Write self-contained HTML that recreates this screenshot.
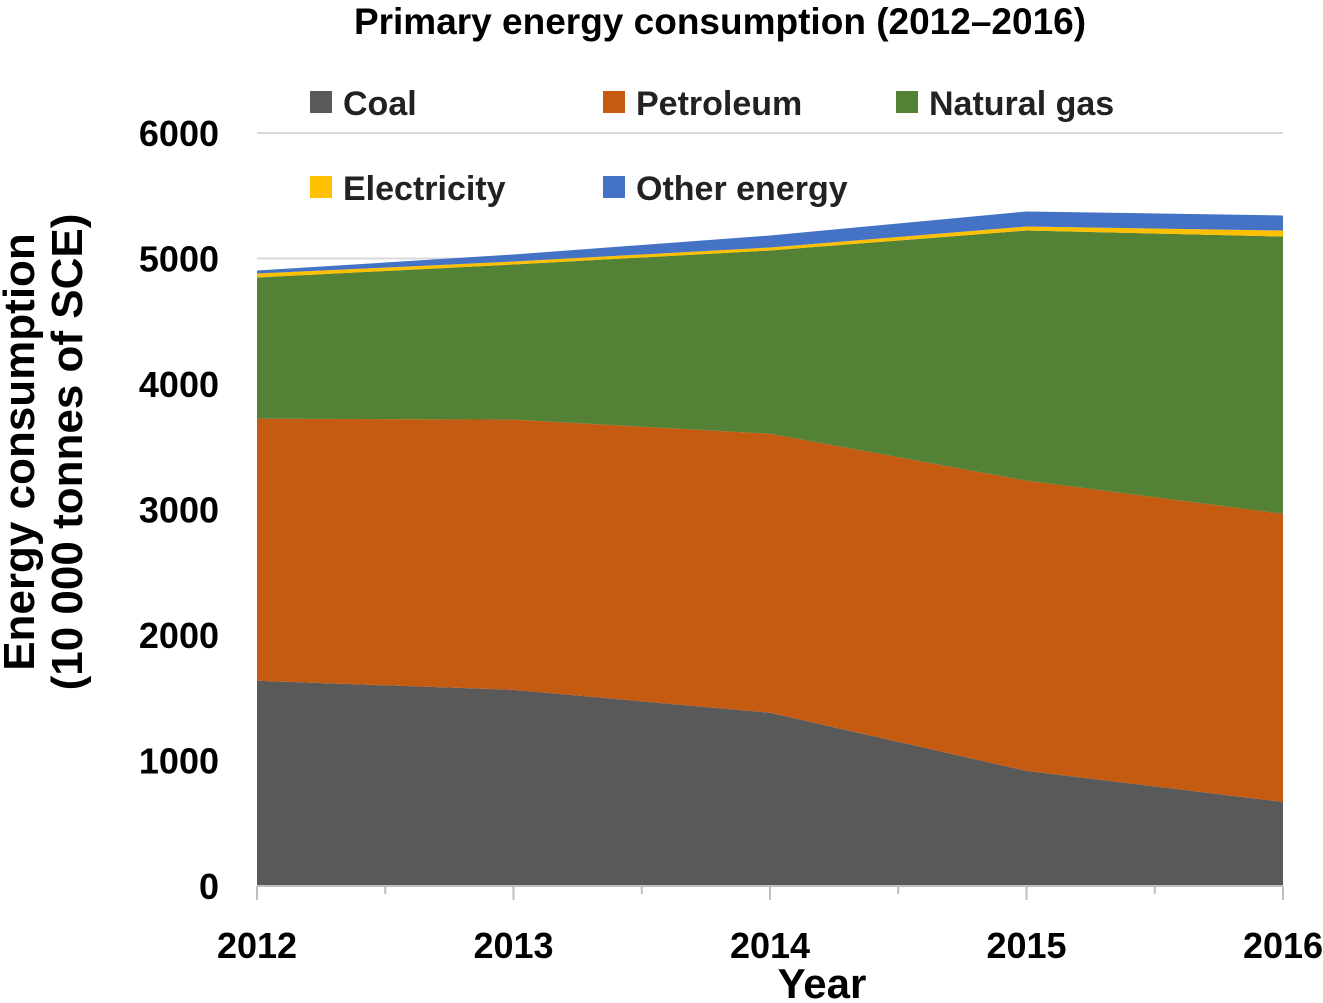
<!DOCTYPE html>
<html><head><meta charset="utf-8"><style>
body{margin:0;background:#fff;width:1323px;height:1003px;overflow:hidden}
svg{display:block;font-family:"Liberation Sans",Arial,sans-serif}
</style></head><body>
<svg id="c" width="1323" height="1003">
<text x="720" y="34" text-anchor="middle" font-size="37" font-weight="bold">Primary energy consumption (2012–2016)</text>
<g transform="translate(0,452) rotate(-90)">
<text x="0" y="34" text-anchor="middle" font-size="44" font-weight="bold">Energy consumption</text>
<text x="0" y="82" text-anchor="middle" font-size="44" font-weight="bold">(10 000 tonnes of SCE)</text>
</g>
<text x="822" y="998" text-anchor="middle" font-size="42" font-weight="bold">Year</text>
<g id="grid"></g><g id="areas"></g><g id="axes"></g><g id="legend"></g>
</svg>
<script>
const years=[2012,2013,2014,2015,2016];
const coal=[1635,1563,1380,917,670];
const petroleum=[2089,2153,2224,2313,2296];
const naturalGas=[1125,1236,1460,1993,2209];
const electricity=[31,24,24,32,48];
const otherEnergy=[24,56,95,120,120];
const yTicks=[0,1000,2000,3000,4000,5000,6000];
const names=["Coal","Petroleum","Natural gas","Electricity","Other energy"];
const colors=["#595959","#C55A11","#538135","#FFC000","#4472C4"];
const series=[coal,petroleum,naturalGas,electricity,otherEnergy];
const NS="http://www.w3.org/2000/svg";
const x0=257,x1=1283,y0=886,y1=133;
const X=i=>x0+(x1-x0)*i/(years.length-1);
const Y=v=>y0-(y0-y1)*v/6000;
function mk(t,a,p){const e=document.createElementNS(NS,t);for(const k in a)e.setAttribute(k,a[k]);p.appendChild(e);return e;}
const grid=document.getElementById('grid'),areas=document.getElementById('areas'),axes=document.getElementById('axes'),legend=document.getElementById('legend');
yTicks.forEach(v=>{
 const l=mk('line',{x1:x0,x2:x1,y1:Y(v),y2:Y(v),stroke:'#d9d9d9','stroke-width':2},grid);
 
 
 const t=mk('text',{x:219,y:Y(v)+13,'text-anchor':'end','font-size':36,'font-weight':'bold'},axes);
 t.textContent=v;
 
 
});
let base=years.map(()=>0);
series.forEach((s,k)=>{
 const top=base.map((b,i)=>b+s[i]);
 let d='M'+years.map((_,i)=>X(i)+','+Y(top[i])).join('L');
 for(let i=years.length-1;i>=0;i--)d+='L'+X(i)+','+Y(base[i]);
 d+='Z';
 const p=mk('path',{d:d,fill:colors[k]},areas);
 
 
 base=top;
});
mk('line',{x1:x0,x2:x1,y1:y0,y2:y0,stroke:'#bfbfbf','stroke-width':2},axes);
for(let j=0;j<=8;j++){const xx=x0+(x1-x0)*j/8;mk('line',{x1:xx,x2:xx,y1:y0,y2:y0+(j%2?8:14),stroke:'#bfbfbf','stroke-width':2},axes);}
years.forEach((yr,i)=>{
 const t=mk('text',{x:X(i),y:958,'text-anchor':'middle','font-size':36,'font-weight':'bold'},axes);
 t.textContent=yr;
 
 
});
const lp=[[310,103],[603,103],[896,103],[310,188],[603,188]];
names.forEach((n,k)=>{
 const g=mk('g',{},legend);
 
 
 mk('rect',{x:lp[k][0],y:lp[k][1]-12,width:22,height:22,fill:colors[k]},g);
 const t=mk('text',{x:lp[k][0]+33,y:lp[k][1]+12,'font-size':34,'font-weight':'bold',fill:'#222'},g);
 t.textContent=n;
});
</script>
</body></html>
